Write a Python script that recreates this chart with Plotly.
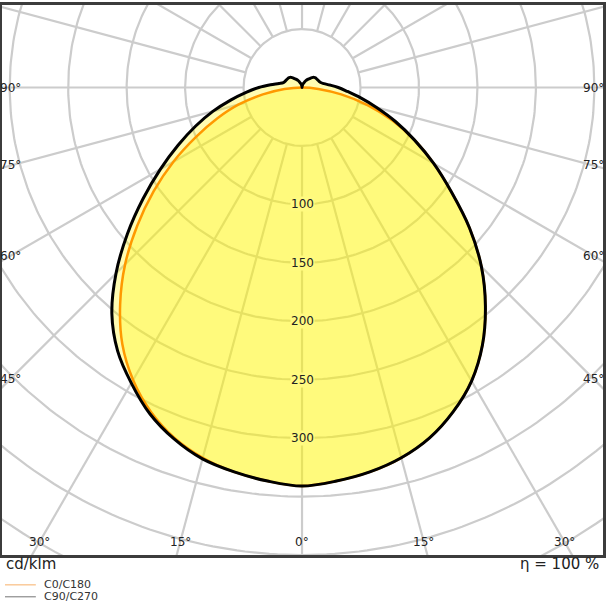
import numpy as np
import plotly.graph_objects as go

# luminous intensity in cd/klm, angle measured from nadir (0 = straight down)
angles = list(range(0, 181, 5))
c90 = [341, 338, 334, 328, 319, 306, 290, 269, 244, 217, 187, 156, 130, 106, 85, 66, 51, 39, 31,
       24, 19, 16.5, 15.5, 15, 14.5, 14.3, 13.5, 12, 10, 8.5, 7, 5.5, 4, 3, 2, 1, 0]
c270 = [341, 338, 334, 329, 320, 308, 292, 275, 253, 225, 195, 166, 140, 117, 97, 79, 62, 48, 37,
        27, 20, 16.5, 15.5, 15, 14.5, 14.3, 13.5, 12, 10, 8.5, 7, 5.5, 4, 3, 2, 1, 0]

orange_angles = list(range(0, 91, 5))
c0 = [341, 338, 334, 328, 319, 306, 290, 269, 244, 217, 187, 156, 130, 106, 82, 58, 34, 14, 0]
c180 = [341, 338, 334, 328, 319, 306, 289, 268, 242, 214, 184, 155, 127, 100, 77, 56, 34, 15, 0]

grid_radii = [50, 100, 150, 200, 250, 300, 350, 400, 450]
spoke_angles = list(range(0, 360, 15))
radial_labels = [100, 150, 200, 250, 300]
bottom_labels = [-30, -15, 0, 15, 30]
side_labels = [45, 60, 75, 90]

FONT = "DejaVu Sans"
GRID = "#cccccc"
FILL = "rgba(255,245,0,0.30)"


def half(theta, r, side):
    t = np.radians(theta)
    r = np.asarray(r, dtype=float)
    return side * r * np.sin(t), -r * np.cos(t)


def closed_curve(theta, left, right):
    # left half from the top down to nadir, then right half back up
    xl, yl = half(theta, left, -1)
    xr, yr = half(theta, right, 1)
    return np.concatenate([xl[::-1], xr[1:]]), np.concatenate([yl[::-1], yr[1:]])


fig = go.Figure()

# polar grid: circles and spokes
gx, gy = [], []
phi = np.linspace(0, 2 * np.pi, 361)
for r in grid_radii:
    gx += list(r * np.sin(phi)) + [None]
    gy += list(-r * np.cos(phi)) + [None]
for a in spoke_angles:
    t = np.radians(a)
    gx += [50 * np.sin(t), 700 * np.sin(t), None]
    gy += [-50 * np.cos(t), -700 * np.cos(t), None]
fig.add_trace(go.Scatter(x=gx, y=gy, mode="lines", line=dict(color=GRID, width=2.2),
                         hoverinfo="skip", showlegend=False))

bx, by = closed_curve(angles, c270, c90)
ox, oy = closed_curve(orange_angles, c180, c0)

fig.add_trace(go.Scatter(x=bx, y=by, mode="lines", fill="toself", fillcolor=FILL,
                         line=dict(width=0, shape="spline", smoothing=1.0),
                         hoverinfo="skip", showlegend=False))
fig.add_trace(go.Scatter(x=ox, y=oy, mode="lines", fill="toself", fillcolor=FILL,
                         line=dict(color="#ff9900", width=2.5, shape="spline", smoothing=1.0),
                         name="C0/C180", showlegend=False))
fig.add_trace(go.Scatter(x=bx, y=by, mode="lines",
                         line=dict(color="black", width=3, shape="spline", smoothing=1.0),
                         name="C90/C270", showlegend=False))

annotations = []
for r in radial_labels:
    annotations.append(dict(x=0, y=-r, xref="x", yref="y", text=str(r), showarrow=False,
                            bgcolor="#fffa80", borderpad=0,
                            font=dict(family=FONT, size=12, color="#222")))
for a in bottom_labels:
    annotations.append(dict(x=389 * np.tan(np.radians(a)), y=-389, xref="x", yref="y",
                            text=f"{abs(a)}°", showarrow=False,
                            font=dict(family=FONT, size=12, color="#222")))
for a in side_labels:
    yv = -249 / np.tan(np.radians(a)) if a != 90 else 0
    for s in (-1, 1):
        annotations.append(dict(x=s * 249, y=yv, xref="x", yref="y", text=f"{a}°",
                                showarrow=False, font=dict(family=FONT, size=12, color="#222")))


def px(v):
    return (v - 2) / 604


def py(v):
    return (555 - v) / 553


annotations += [
    dict(x=px(4), y=py(564), xref="paper", yref="paper", text="cd/klm", showarrow=False,
         xanchor="left", yanchor="middle", font=dict(family=FONT, size=15, color="#222")),
    dict(x=px(604), y=py(564), xref="paper", yref="paper", text="η = 100 %", showarrow=False,
         xanchor="right", yanchor="middle", font=dict(family=FONT, size=15, color="#222")),
    dict(x=px(42), y=py(585), xref="paper", yref="paper", text="C0/C180", showarrow=False,
         xanchor="left", yanchor="middle", font=dict(family=FONT, size=11, color="#333")),
    dict(x=px(42), y=py(597), xref="paper", yref="paper", text="C90/C270", showarrow=False,
         xanchor="left", yanchor="middle", font=dict(family=FONT, size=11, color="#333")),
]

shapes = [
    dict(type="line", xref="paper", yref="paper", x0=px(5), x1=px(36), y0=py(585), y1=py(585),
         line=dict(color="#f9bd80", width=1.2)),
    dict(type="line", xref="paper", yref="paper", x0=px(5), x1=px(36), y0=py(597), y1=py(597),
         line=dict(color="#8a8a8a", width=1.2)),
]

fig.update_layout(
    width=608,
    height=608,
    margin=dict(l=2, r=2, t=2, b=53),
    paper_bgcolor="white",
    plot_bgcolor="white",
    annotations=annotations,
    shapes=shapes,
    showlegend=False,
)
fig.update_xaxes(range=[-256.6, 257.4], showgrid=False, zeroline=False, showticklabels=False,
                 showline=True, mirror=True, linecolor="#3c3c3c", linewidth=2.5, fixedrange=True)
fig.update_yaxes(range=[-400, 70.6], showgrid=False, zeroline=False, showticklabels=False,
                 showline=True, mirror=True, linecolor="#3c3c3c", linewidth=2.5, fixedrange=True)

fig.write_html("out.html", config={"displayModeBar": False},
               post_script="document.body.style.margin='0';")
